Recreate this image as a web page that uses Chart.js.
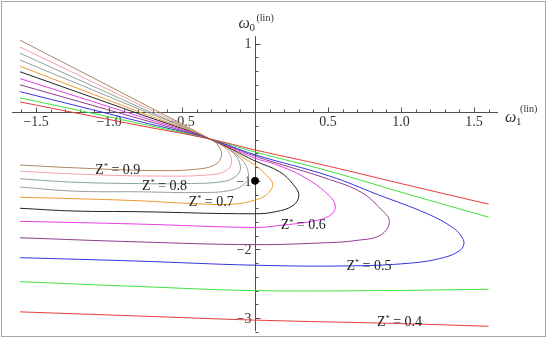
<!DOCTYPE html>
<html>
<head>
<meta charset="utf-8">
<script src="https://cdn.jsdelivr.net/npm/chart.js@4.4.0/dist/chart.umd.min.js"></script>
<style>
  html, body { margin: 0; padding: 0; background: #fff; }
  #wrap { width: 552px; height: 338px; }
</style>
</head>
<body>
<div id="wrap"><canvas id="chart" width="552" height="338"></canvas></div>
<script>
// tick marks and their labels
const xTicks = [-1.5, -1.0, -0.5, 0.5, 1.0, 1.5];
const xTickLabels = ['\u22121.5', '\u22121.0', '\u22120.5', '0.5', '1.0', '1.5'];
const yTicks = [1, -1, -2, -3];
const yTickLabels = ['1', '\u22121', '\u22122', '\u22123'];

// curves, [omega1, omega0]
const z040Upper = [[-1.61, 0.15], [-0.80, -0.19], [-0.31, -0.39], [0.00, -0.55], [0.51, -0.79], [1.00, -1.04], [1.60, -1.34]];
const z040Lower = [[-1.61, -2.91], [-0.80, -2.97], [0.00, -3.03], [0.98, -3.08], [1.60, -3.12]];
const z045Upper = [[-1.61, 0.21], [-0.80, -0.16], [-0.31, -0.39], [0.00, -0.58], [0.51, -0.86], [1.04, -1.19], [1.60, -1.53]];
const z045Lower = [[-1.61, -2.47], [-0.80, -2.54], [0.00, -2.60], [0.84, -2.60], [1.60, -2.58]];
const z050 = [[-1.61, 0.30], [-0.80, -0.13], [-0.31, -0.39], [0.00, -0.62], [0.51, -0.93], [0.84, -1.20], [1.18, -1.48],
  [1.36, -1.69], [1.42, -1.83], [1.43, -1.93], [1.40, -2.02], [1.29, -2.12], [1.06, -2.20], [0.64, -2.24],
  [0.00, -2.23], [-0.80, -2.17], [-1.61, -2.12]];
const z055 = [[-1.61, 0.40], [-0.80, -0.09], [-0.31, -0.39], [0.00, -0.64], [0.51, -0.98], [0.73, -1.17], [0.86, -1.41],
  [0.92, -1.59], [0.86, -1.79], [0.69, -1.87], [0.51, -1.90], [0.00, -1.93], [-0.80, -1.89], [-1.61, -1.83]];
const z060 = [[-1.61, 0.49], [-0.80, -0.055], [-0.31, -0.39], [0.00, -0.67], [0.14, -0.76], [0.34, -0.95], [0.51, -1.22],
  [0.55, -1.38], [0.51, -1.51], [0.39, -1.59], [0.17, -1.65], [0.00, -1.68], [-0.80, -1.63], [-1.61, -1.59]];
const z065 = [[-1.61, 0.59], [-0.80, -0.02], [-0.31, -0.39], [0.00, -0.71], [0.17, -0.87], [0.26, -1.05], [0.30, -1.21],
  [0.26, -1.36], [0.14, -1.45], [0.00, -1.48], [-0.80, -1.45], [-1.24, -1.44], [-1.61, -1.40]];
const z070 = [[-1.61, 0.67], [-0.80, 0.01], [-0.31, -0.39], [-0.03, -0.73], [0.07, -0.90], [0.12, -1.05], [0.08, -1.20],
  [0.00, -1.28], [-0.15, -1.34], [-0.44, -1.33], [-0.80, -1.29], [-1.24, -1.26], [-1.61, -1.24]];
const z075 = [[-1.61, 0.76], [-0.80, 0.05], [-0.31, -0.39], [-0.10, -0.67], [-0.045, -0.90], [-0.07, -1.04], [-0.17, -1.14],
  [-0.37, -1.17], [-0.80, -1.16], [-1.24, -1.15], [-1.61, -1.09]];
const z080 = [[-1.61, 0.86], [-0.80, 0.08], [-0.31, -0.39], [-0.15, -0.59], [-0.10, -0.80], [-0.13, -0.93], [-0.22, -1.01],
  [-0.47, -1.04], [-0.80, -1.04], [-1.24, -1.02], [-1.61, -0.97]];
const z085 = [[-1.61, 0.95], [-0.80, 0.12], [-0.31, -0.39], [-0.20, -0.53], [-0.16, -0.71], [-0.19, -0.84], [-0.30, -0.91],
  [-0.70, -0.93], [-1.24, -0.90], [-1.61, -0.86]];
const z090 = [[-1.61, 1.05], [-0.80, 0.16], [-0.31, -0.39], [-0.25, -0.49], [-0.23, -0.63], [-0.27, -0.76], [-0.40, -0.83],
  [-0.70, -0.85], [-1.24, -0.81], [-1.61, -0.77]];
const markedPoint = [[0, -1]];

const curves = [
  { data: z040Upper, color: '#e8393a' },
  { data: z040Lower, color: '#e8393a' },
  { data: z045Upper, color: '#3fe23f' },
  { data: z045Lower, color: '#3fe23f' },
  { data: z050, color: '#3535de' },
  { data: z055, color: '#8c3d8c' },
  { data: z060, color: '#e63de6' },
  { data: z065, color: '#222222' },
  { data: z070, color: '#f0982f' },
  { data: z075, color: '#9c9c9c' },
  { data: z080, color: '#8aa397' },
  { data: z085, color: '#f2a2a8' },
  { data: z090, color: '#a8875f' }
];

// contour labels, anchored in data coordinates
const contourLabels = [
  { text: '0.9', x: -0.94, y: -0.84 },
  { text: '0.8', x: -0.62, y: -1.08 },
  { text: '0.7', x: -0.30, y: -1.31 },
  { text: '0.6', x: 0.33, y: -1.65 },
  { text: '0.5', x: 0.78, y: -2.24 },
  { text: '0.4', x: 0.99, y: -3.06 }
];

const SERIF = '"Liberation Serif", "DejaVu Serif", serif';

const mmaAxes = {
  id: 'mmaAxes',
  beforeDatasetsDraw(chart) {
    const { ctx, scales: { x, y } } = chart;
    const x0 = Math.round(x.getPixelForValue(0)) + 0.5;
    const y0 = Math.round(y.getPixelForValue(0)) + 0.5;
    ctx.save();

    // frame
    ctx.strokeStyle = '#a8a8a8';
    ctx.lineWidth = 1;
    ctx.strokeRect(1.5, 1.5, 544, 335);

    // axis lines
    ctx.strokeStyle = '#505050';
    ctx.beginPath();
    ctx.moveTo(x.getPixelForValue(-1.665), y0);
    ctx.lineTo(x.getPixelForValue(1.665), y0);
    ctx.moveTo(x0, y.getPixelForValue(1.11));
    ctx.lineTo(x0, y.getPixelForValue(-3.19));

    // x ticks every 0.1, drawn upward
    for (let i = -16; i <= 16; i++) {
      if (i === 0) continue;
      const px = Math.round(x.getPixelForValue(i / 10)) + 0.5;
      const len = i % 5 === 0 ? 5 : 3;
      ctx.moveTo(px, y0);
      ctx.lineTo(px, y0 - len);
    }
    // y ticks every 0.2, drawn to the right
    for (let j = -16; j <= 5; j++) {
      if (j === 0) continue;
      const py = Math.round(y.getPixelForValue(j / 5)) + 0.5;
      const len = j % 5 === 0 ? 5 : 3;
      ctx.moveTo(x0, py);
      ctx.lineTo(x0 + len, py);
    }
    ctx.stroke();

    // tick labels
    ctx.fillStyle = '#333';
    ctx.font = '14px ' + SERIF;
    ctx.textAlign = 'center';
    ctx.textBaseline = 'middle';
    xTicks.forEach((v, i) => {
      ctx.fillText(xTickLabels[i], x.getPixelForValue(v), y0 + 10);
    });
    ctx.textAlign = 'right';
    yTicks.forEach((v, i) => {
      ctx.fillText(yTickLabels[i], x0 - 4, y.getPixelForValue(v) + 1);
    });

    // axis titles
    ctx.textAlign = 'left';
    ctx.textBaseline = 'alphabetic';
    const topY = y.getPixelForValue(1.11);
    ctx.font = 'italic 16px ' + SERIF;
    ctx.fillText('\u03c9', x0 - 17, topY - 8);
    ctx.font = '11px ' + SERIF;
    ctx.fillText('0', x0 - 6, topY - 5);
    ctx.font = '10px ' + SERIF;
    ctx.fillText('(lin)', x0 + 1, topY - 15);

    const rightX = x.getPixelForValue(1.665);
    ctx.font = 'italic 16px ' + SERIF;
    ctx.fillText('\u03c9', rightX + 7, y0 + 9);
    ctx.font = '11px ' + SERIF;
    ctx.fillText('1', rightX + 18, y0 + 12);
    ctx.font = '10px ' + SERIF;
    ctx.fillText('(lin)', rightX + 22, y0 - 1);
    ctx.restore();
  },
  afterDatasetsDraw(chart) {
    const { ctx, scales: { x, y } } = chart;
    ctx.save();
    ctx.fillStyle = '#222';
    ctx.textBaseline = 'middle';
    ctx.textAlign = 'left';
    contourLabels.forEach(l => {
      const big = '14px ' + SERIF;
      const small = '8px ' + SERIF;
      const rest = ' = ' + l.text;
      ctx.font = big;
      const wZ = ctx.measureText('Z').width;
      const wRest = ctx.measureText(rest).width;
      ctx.font = small;
      const wStar = ctx.measureText('*').width;
      const total = wZ + wStar + wRest;
      let px = x.getPixelForValue(l.x) - total / 2;
      const py = y.getPixelForValue(l.y);
      ctx.font = big;
      ctx.fillText('Z', px, py);
      px += wZ;
      ctx.font = small;
      ctx.fillText('*', px, py - 3);
      px += wStar;
      ctx.font = big;
      ctx.fillText(rest, px, py);
    });
    ctx.restore();
  }
};

const datasets = curves.map(c => ({
  data: c.data.map(p => ({ x: p[0], y: p[1] })),
  borderColor: c.color,
  borderWidth: 1,
  pointRadius: 0,
  showLine: true,
  tension: 0.4,
  fill: false
}));

datasets.push({
  data: markedPoint.map(p => ({ x: p[0], y: p[1] })),
  backgroundColor: '#000',
  borderColor: '#000',
  pointRadius: 3.5,
  showLine: false
});

new Chart(document.getElementById('chart'), {
  type: 'scatter',
  data: { datasets },
  options: {
    responsive: false,
    animation: false,
    layout: { padding: 0 },
    plugins: {
      legend: { display: false },
      tooltip: { enabled: false }
    },
    scales: {
      x: { type: 'linear', display: false, min: -1.713, max: 2.0 },
      y: { type: 'linear', display: false, min: -3.218, max: 1.563 }
    }
  },
  plugins: [mmaAxes]
});
</script>
</body>
</html>
